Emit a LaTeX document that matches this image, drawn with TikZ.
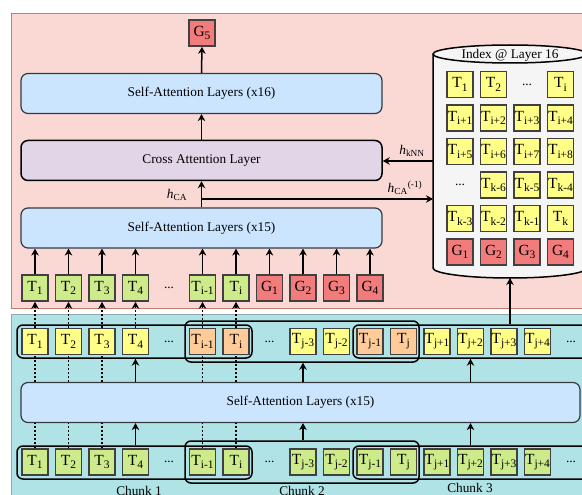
\documentclass[tikz,border=0pt]{standalone}
\usepackage{fontspec}
\setmainfont{Liberation Serif}
\usetikzlibrary{arrows.meta}

\definecolor{pinkfill}{HTML}{FAD9D5}
\definecolor{pinkline}{HTML}{C27A72}
\definecolor{cyanfill}{HTML}{B0E3E6}
\definecolor{cyanline}{HTML}{8FA9AB}
\definecolor{safill}{HTML}{CCE5FF}
\definecolor{cafill}{HTML}{E1D5E7}
\definecolor{layerline}{HTML}{36393D}
\definecolor{tokline}{HTML}{404040}
\definecolor{tokyellow}{HTML}{FFFF88}
\definecolor{tokgreen}{HTML}{CDEB8B}
\definecolor{tokorange}{HTML}{FFCC99}
\definecolor{tokred}{HTML}{F27B7B}
\definecolor{dbfill}{HTML}{F5F5F5}

\newcommand{\tokn}[2]{#1\raisebox{-0.45ex}{\fontsize{11.5}{12}\selectfont #2}}

\tikzset{
  every node/.style={font=\fontsize{13.3}{15}\selectfont},
  tok/.style={draw=tokline, line width=1.6pt, minimum size=26pt, inner sep=0pt, font=\fontsize{15.5}{17}\selectfont},
  ytok/.style={tok, fill=tokyellow},
  gtok/.style={tok, fill=tokgreen},
  otok/.style={tok, fill=tokorange},
  rtok/.style={tok, fill=tokred},
  salayer/.style={draw=layerline, line width=1.2pt, fill=safill, rounded corners=7pt, minimum height=40pt, minimum width=361pt},
  calayer/.style={draw=black, line width=1.5pt, fill=cafill, rounded corners=7pt, minimum height=40pt, minimum width=361pt},
  chunkbox/.style={draw=black, line width=1.5pt, rounded corners=6pt, inner sep=0pt},
  arr/.style={-{Stealth[length=7pt,width=7.5pt]}, line width=1.5pt},
  dotarr/.style={arr, dash pattern=on 2pt off 2pt},
  dotln/.style={line width=1.8pt, dash pattern=on 2pt off 2pt}
}

\begin{document}
\begin{tikzpicture}[x=1pt,y=-1pt]
  \useasboundingbox (0,0) rectangle (582,495);
  \clip (0,0) rectangle (582,495);

  % panels
  \draw[draw=pinkline, fill=pinkfill, line width=0.8pt] (11,13) rectangle (600,308);
  \draw[draw=cyanline, fill=cyanfill, line width=0.8pt] (11,314) rectangle (600,515);

  % generation side
  \node[rtok] (g5) at (202,33) {\tokn{G}{5}};
  \node[salayer] (sa16) at (201.5,93.5) {Self-Attention Layers (x16)};
  \node[calayer] (ca) at (201.5,160.5) {Cross Attention Layer};
  \node[salayer] (sa15t) at (201.5,228) {Self-Attention Layers (x15)};

  \node[gtok] (a1) at (35,288) {\tokn{T}{1}};
  \node[gtok] (a2) at (68.5,288) {\tokn{T}{2}};
  \node[gtok] (a3) at (102,288) {\tokn{T}{3}};
  \node[gtok] (a4) at (135.5,288) {\tokn{T}{4}};
  \node (adots) at (169,288) {...};
  \node[gtok] (a6) at (202.5,288) {\tokn{T}{i-1}};
  \node[gtok] (a7) at (236,288) {\tokn{T}{i}};
  \node[rtok] (ga1) at (269.5,288) {\tokn{G}{1}};
  \node[rtok] (ga2) at (303,288) {\tokn{G}{2}};
  \node[rtok] (ga3) at (336.5,288) {\tokn{G}{3}};
  \node[rtok] (ga4) at (370,288) {\tokn{G}{4}};

  \draw[arr] (sa16.north) to (g5.south);
  \draw[arr] (ca.north) to (sa16.south);
  \draw[arr] (sa15t.north) to (ca.south);
  \draw[arr] (a1.north) to (a1 |- sa15t.south);
  \draw[arr] (a2.north) to (a2 |- sa15t.south);
  \draw[arr] (a3.north) to (a3 |- sa15t.south);
  \draw[arr] (a4.north) to (a4 |- sa15t.south);
  \draw[arr] (a6.north) to (a6 |- sa15t.south);
  \draw[arr] (a7.north) to (a7 |- sa15t.south);
  \draw[arr] (ga1.north) to (ga1 |- sa15t.south);
  \draw[arr] (ga2.north) to (ga2 |- sa15t.south);
  \draw[arr] (ga3.north) to (ga3 |- sa15t.south);
  \draw[arr] (ga4.north) to (ga4 |- sa15t.south);

  % index
  \draw[draw=black, fill=dbfill, line width=1.5pt]
    (433,54) -- (433,268) arc[start angle=180, end angle=0, x radius=77, y radius=10]
    -- (587,54) arc[start angle=0, end angle=-180, x radius=77, y radius=9] -- cycle;
  \draw[line width=1.5pt] (433,54) arc[start angle=180, end angle=0, x radius=77, y radius=9];
  \node (dbtitle) at (510,55) {Index @ Layer 16};
  \coordinate (dbs) at (510,278);
  \coordinate (knnout) at (433,161);
  \coordinate (cain) at (433,199);

  \node[ytok] (i11) at (460,84.5) {\tokn{T}{1}};
  \node[ytok] (i12) at (493.5,84.5) {\tokn{T}{2}};
  \node (i13) at (527,84.5) {...};
  \node[ytok] (i14) at (560.5,84.5) {\tokn{T}{i}};
  \node[ytok] (i21) at (460,118) {\tokn{T}{i+1}};
  \node[ytok] (i22) at (493.5,118) {\tokn{T}{i+2}};
  \node[ytok] (i23) at (527,118) {\tokn{T}{i+3}};
  \node[ytok] (i24) at (560.5,118) {\tokn{T}{i+4}};
  \node[ytok] (i31) at (460,151.5) {\tokn{T}{i+5}};
  \node[ytok] (i32) at (493.5,151.5) {\tokn{T}{i+6}};
  \node[ytok] (i33) at (527,151.5) {\tokn{T}{i+7}};
  \node[ytok] (i34) at (560.5,151.5) {\tokn{T}{i+8}};
  \node (i41) at (460,185) {...};
  \node[ytok] (i42) at (493.5,185) {\tokn{T}{k-6}};
  \node[ytok] (i43) at (527,185) {\tokn{T}{k-5}};
  \node[ytok] (i44) at (560.5,185) {\tokn{T}{k-4}};
  \node[ytok] (i51) at (460,218.5) {\tokn{T}{k-3}};
  \node[ytok] (i52) at (493.5,218.5) {\tokn{T}{k-2}};
  \node[ytok] (i53) at (527,218.5) {\tokn{T}{k-1}};
  \node[ytok] (i54) at (560.5,218.5) {\tokn{T}{k}};
  \node[rtok] (i61) at (460,252) {\tokn{G}{1}};
  \node[rtok] (i62) at (493.5,252) {\tokn{G}{2}};
  \node[rtok] (i63) at (527,252) {\tokn{G}{3}};
  \node[rtok] (i64) at (560.5,252) {\tokn{G}{4}};

  \draw[arr] (knnout) to (knnout -| ca.east);
  \coordinate (br) at (201.5,199);
  \draw[arr] (br) to (cain);
  \node (hknn) at (412,151) {\textit{h}\textsubscript{kNN}};
  \node (hca) at (177,195) {\textit{h}\textsubscript{CA}};
  \node (hcaprev) at (405,188) {\textit{h}\textsubscript{CA}\textsuperscript{(-1)}};

  % chunked encoding
  \node[salayer, minimum width=559pt] (sab) at (300.5,402.5) {Self-Attention Layers (x15)};

  \node[ytok] (b1) at (35,341.5) {\tokn{T}{1}};
  \node[ytok] (b2) at (68.5,341.5) {\tokn{T}{2}};
  \node[ytok] (b3) at (102,341.5) {\tokn{T}{3}};
  \node[ytok] (b4) at (135.5,341.5) {\tokn{T}{4}};
  \node (bdots1) at (169,341.5) {...};
  \node[otok] (b6) at (202.5,341.5) {\tokn{T}{i-1}};
  \node[otok] (b7) at (236,341.5) {\tokn{T}{i}};
  \node (bdots2) at (269.5,341.5) {...};
  \node[ytok] (b9) at (303,341.5) {\tokn{T}{j-3}};
  \node[ytok] (b10) at (336.5,341.5) {\tokn{T}{j-2}};
  \node[otok] (b11) at (370,341.5) {\tokn{T}{j-1}};
  \node[otok] (b12) at (403.5,341.5) {\tokn{T}{j}};
  \node[ytok] (b13) at (437,341.5) {\tokn{T}{j+1}};
  \node[ytok] (b14) at (470.5,341.5) {\tokn{T}{j+2}};
  \node[ytok] (b15) at (504,341.5) {\tokn{T}{j+3}};
  \node[ytok] (b16) at (537.5,341.5) {\tokn{T}{j+4}};
  \node (bdots3) at (571,341.5) {...};

  \node[gtok] (c1) at (35,462) {\tokn{T}{1}};
  \node[gtok] (c2) at (68.5,462) {\tokn{T}{2}};
  \node[gtok] (c3) at (102,462) {\tokn{T}{3}};
  \node[gtok] (c4) at (135.5,462) {\tokn{T}{4}};
  \node (cdots1) at (169,462) {...};
  \node[gtok] (c6) at (202.5,462) {\tokn{T}{i-1}};
  \node[gtok] (c7) at (236,462) {\tokn{T}{i}};
  \node (cdots2) at (269.5,462) {...};
  \node[gtok] (c9) at (303,462) {\tokn{T}{j-3}};
  \node[gtok] (c10) at (336.5,462) {\tokn{T}{j-2}};
  \node[gtok] (c11) at (370,462) {\tokn{T}{j-1}};
  \node[gtok] (c12) at (403.5,462) {\tokn{T}{j}};
  \node[gtok] (c13) at (437,462) {\tokn{T}{j+1}};
  \node[gtok] (c14) at (470.5,462) {\tokn{T}{j+2}};
  \node[gtok] (c15) at (504,462) {\tokn{T}{j+3}};
  \node[gtok] (c16) at (537.5,462) {\tokn{T}{j+4}};
  \node (cdots3) at (571,462) {...};

  % chunk frames
  \node[chunkbox, minimum width=235pt, minimum height=33pt] (k1b) at (134.5,341.5) {};
  \node[chunkbox, minimum width=234pt, minimum height=41pt] (k2b) at (302,341.5) {};
  \node[chunkbox, minimum width=257pt, minimum height=33pt] (k3b) at (481.5,341.5) {};
  \node[chunkbox, minimum width=235pt, minimum height=33pt] (k1c) at (134.5,462.5) {};
  \node[chunkbox, minimum width=234pt, minimum height=42pt] (k2c) at (302,462) {};
  \node[chunkbox, minimum width=257pt, minimum height=33pt] (k3c) at (481.5,462.5) {};

  \node (chunk1) at (139,491) {Chunk 1};
  \node (chunk2) at (302,491) {Chunk 2};
  \node (chunk3) at (470,488) {Chunk 3};

  \draw[arr] (k1c.north -| c4) to (c4 |- sab.south);
  \draw[arr] (sab.north -| c4) to (k1b.south -| c4);
  \draw[arr] (k2c.north -| c9) to (c9 |- sab.south);
  \draw[arr] (sab.north -| c9) to (k2b.south -| c9);
  \draw[arr] (k3c.north -| c14) to (c14 |- sab.south);
  \draw[arr] (sab.north -| c14) to (k3b.south -| c14);
  \draw[arr] (k3b.north -| dbs) to (dbs);

  \draw[dotln] (c1.north) to (c1 |- sab.south);
  \draw[dotln] (c2.north) to (c2 |- sab.south);
  \draw[dotln] (c3.north) to (c3 |- sab.south);
  \draw[dotln] (c6.north) to (c6 |- sab.south);
  \draw[dotln] (c7.north) to (c7 |- sab.south);
  \draw[dotln] (sab.north -| b1) to (b1.south);
  \draw[dotln] (sab.north -| b2) to (b2.south);
  \draw[dotln] (sab.north -| b3) to (b3.south);
  \draw[dotln] (sab.north -| b6) to (b6.south);
  \draw[dotln] (sab.north -| b7) to (b7.south);

  \draw[dotarr] (b1.north) to (a1.south);
  \draw[dotarr] (b2.north) to (a2.south);
  \draw[dotarr] (b3.north) to (a3.south);
  \draw[dotarr] (b4.north) to (a4.south);
  \draw[dotarr] (b6.north) to (a6.south);
  \draw[dotarr] (b7.north) to (a7.south);
\end{tikzpicture}
\end{document}
